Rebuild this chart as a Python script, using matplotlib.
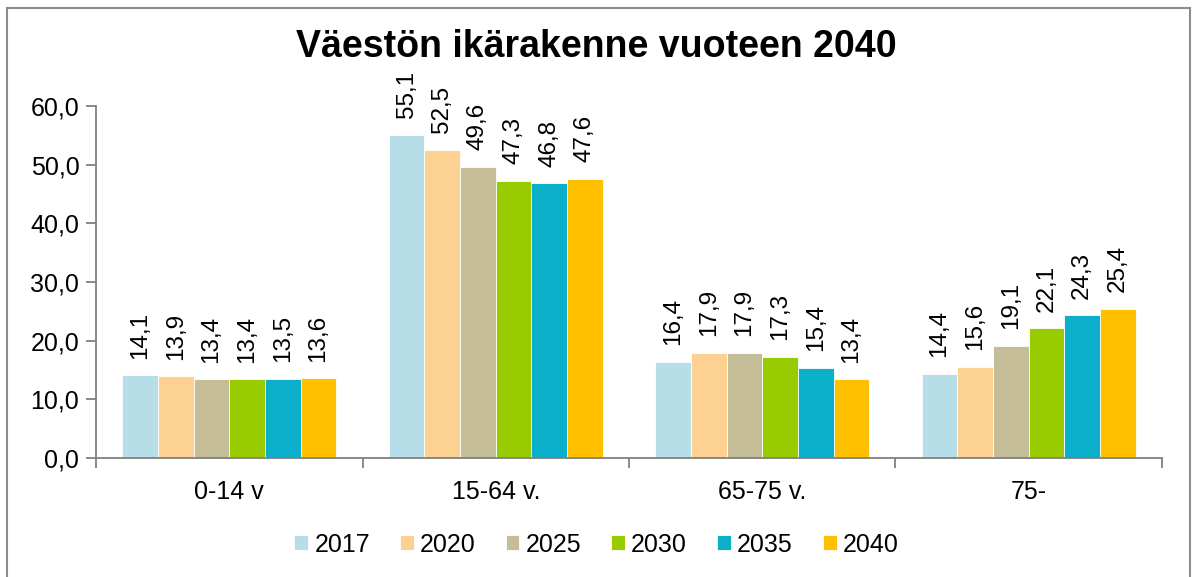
import numpy as np
import matplotlib.pyplot as plt
from matplotlib.patches import Rectangle

plt.rcParams['font.family'] = ['Liberation Sans', 'DejaVu Sans']

# data
categories = ['0-14 v', '15-64 v.', '65-75 v.', '75-']
years = ['2017', '2020', '2025', '2030', '2035', '2040']
values = [
    [14.1, 13.9, 13.4, 13.4, 13.5, 13.6],   # 0-14 v
    [55.1, 52.5, 49.6, 47.3, 46.8, 47.6],   # 15-64 v.
    [16.4, 17.9, 17.9, 17.3, 15.4, 13.4],   # 65-75 v.
    [14.4, 15.6, 19.1, 22.1, 24.3, 25.4],   # 75-
]
colors = ['#B7DEE8', '#FCD191', '#C4BD97', '#99CC00', '#0BAFC9', '#FFC000']
yticks = [0, 10, 20, 30, 40, 50, 60]

vals = np.array(values)
fig = plt.figure(figsize=(11.93, 5.77), dpi=100)
ax = fig.add_axes([0.0805, 0.2062, 0.8935, 0.610])

bw = 0.1338
x = np.arange(len(categories))
for i, yr in enumerate(years):
    pos = x - 3 * bw + bw / 2 + i * bw
    bars = ax.bar(pos, vals[:, i], width=bw, color=colors[i], label=yr,
                  edgecolor='white', linewidth=0.6)
    for b, v in zip(bars, vals[:, i]):
        ax.annotate(f'{v:.1f}'.replace('.', ','), (b.get_x() + bw / 2, v),
                    xytext=(0, 12), textcoords='offset points',
                    rotation=90, ha='center', va='bottom', fontsize=17.5)

ax.set_xlim(-0.5, len(categories) - 0.5)
ax.set_ylim(0, 60)
ax.set_yticks(yticks)
ax.set_yticklabels([f'{t:.1f}'.replace('.', ',') for t in yticks], fontsize=18)
ax.set_xticks(x)
ax.set_xticklabels(categories, fontsize=18)
ax.set_xticks(np.arange(len(categories) + 1) - 0.5, minor=True)
ax.tick_params(axis='x', which='major', length=0, pad=16)
ax.tick_params(axis='x', which='minor', length=7, color='#808080', width=1.3)
ax.tick_params(axis='y', length=7, color='#808080', width=1.3, pad=5)
for s in ['top', 'right']:
    ax.spines[s].set_visible(False)
for s in ['left', 'bottom']:
    ax.spines[s].set_color('#808080')
    ax.spines[s].set_linewidth(1.3)

fig.text(0.5, 0.918, 'Väestön ikärakenne vuoteen 2040', ha='center', va='center',
         fontsize=27, fontweight='bold')

fig.legend(loc='center', bbox_to_anchor=(0.5, 0.056), ncol=6, frameon=False,
           fontsize=18, handlelength=0.55, handleheight=0.55, handletextpad=0.25,
           columnspacing=1.2)

fig.patches.append(Rectangle((7 / 1193, -0.05), 1183 / 1193, 1.05 - 8 / 577,
                             transform=fig.transFigure, fill=False,
                             edgecolor='#8C8C8C', linewidth=1.5))

fig.savefig('out.png', dpi=100)
